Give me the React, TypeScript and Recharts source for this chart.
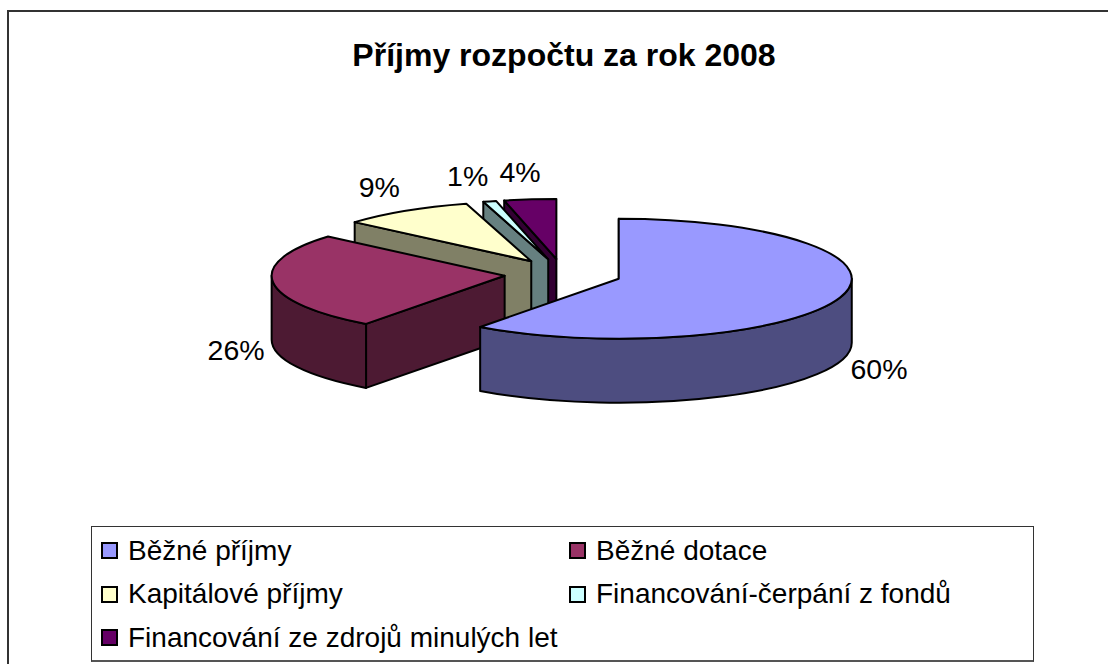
import { PieChart, Pie, Legend } from "recharts";

const NAMES = [
  "Běžné příjmy",
  "Běžné dotace",
  "Kapitálové příjmy",
  "Financování-čerpání z fondů",
  "Financování ze zdrojů minulých let",
];
const VALUES = [60.2, 26.2, 9.2, 0.9, 3.6];
const COLORS = ["#9999FF", "#993366", "#FFFFCC", "#CCFFFF", "#660066"];
const WALLS = ["#4D4D80", "#4D1A33", "#808066", "#668080", "#330033"];
const TITLE = "Příjmy rozpočtu za rok 2008";

// back slices first, so the nearer ones paint over them
const rows = NAMES.map((name, i) => ({
  name,
  value: VALUES[i],
  fill: COLORS[i],
  wall: WALLS[i],
})).reverse();

const FONT = "'Liberation Sans', Arial, sans-serif";
const SQUASH = 60 / 233;
const DEPTH = 64;
const EXPLODE = 0.252;
const RAD = Math.PI / 180;

function arc(cx: number, cy: number, r: number, a: number) {
  return { x: cx + r * Math.cos(a * RAD), y: cy - r * SQUASH * Math.sin(a * RAD) };
}

function arcPath(cx: number, cy: number, r: number, from: number, to: number) {
  // from -> to runs counterclockwise on screen in chart degrees
  const sweep = to > from ? 0 : 1;
  const big = Math.abs(to - from) > 180 ? 1 : 0;
  const end = arc(cx, cy, r, to);
  return `A ${r} ${r * SQUASH} 0 ${big} ${sweep} ${end.x} ${end.y}`;
}

function Slice3D(props: any) {
  const { cx, cy, outerRadius: r, startAngle, endAngle, midAngle, fill, wall } = props;
  const ox = cx + r * EXPLODE * Math.cos(midAngle * RAD);
  const oy = cy - r * SQUASH * EXPLODE * Math.sin(midAngle * RAD);
  const a0 = Math.min(startAngle, endAngle);
  const a1 = Math.max(startAngle, endAngle);
  const p0 = arc(ox, oy, r, a0);
  const line = { stroke: "#000", strokeWidth: 2, strokeLinejoin: "round" as const };

  const walls: React.ReactElement[] = [];
  // straight cut faces that look toward the viewer
  [a0, a1].forEach((a) => {
    const norm = ((a === a0 ? a - 90 : a + 90) % 360 + 360) % 360;
    if (norm > 180 && norm < 360) {
      const p = arc(ox, oy, r, a);
      walls.push(
        <path
          key={`cut-${a}`}
          d={`M ${ox} ${oy} L ${p.x} ${p.y} L ${p.x} ${p.y + DEPTH} L ${ox} ${oy + DEPTH} Z`}
          fill={wall}
          {...line}
        />
      );
    }
  });
  // rim, only the part on the front half of the ellipse
  const rimFrom = Math.max(a0, 180);
  const rimTo = Math.min(a1, 360);
  if (rimTo > rimFrom) {
    const s = arc(ox, oy, r, rimFrom);
    const e = arc(ox, oy, r, rimTo);
    walls.push(
      <path
        key="rim"
        d={`M ${s.x} ${s.y} ${arcPath(ox, oy, r, rimFrom, rimTo)} L ${e.x} ${e.y + DEPTH} ${arcPath(ox, oy + DEPTH, r, rimTo, rimFrom)} Z`}
        fill={wall}
        {...line}
      />
    );
  }
  return (
    <g>
      {walls}
      <path
        d={`M ${ox} ${oy} L ${p0.x} ${p0.y} ${arcPath(ox, oy, r, a0, a1)} Z`}
        fill={fill}
        {...line}
      />
    </g>
  );
}

// label centres relative to the slice's rim point
const LABEL_NUDGE: Record<string, [number, number]> = {
  "Běžné příjmy": [39, 71],
  "Běžné dotace": [-37, 68],
  "Kapitálové příjmy": [-26, -24],
  "Financování-čerpání z fondů": [-22, -25],
  "Financování ze zdrojů minulých let": [-10, -27],
};

function SliceLabel(props: any) {
  const { cx, cy, outerRadius: r, midAngle, percent, name } = props;
  const ox = cx + r * EXPLODE * Math.cos(midAngle * RAD);
  const oy = cy - r * SQUASH * EXPLODE * Math.sin(midAngle * RAD);
  const p = arc(ox, oy, r, midAngle);
  const [dx, dy] = LABEL_NUDGE[name];
  return (
    <text
      x={p.x + dx}
      y={p.y + dy}
      textAnchor="middle"
      dominantBaseline="central"
      fontFamily={FONT}
      fontSize={28.5}
      fill="#000"
    >
      {Math.round(percent * 100)}%
    </text>
  );
}

function LegendBox({ payload }: any) {
  const byName = new Map((payload ?? []).map((it: any) => [it.value, it]));
  const items = NAMES.map((n) => byName.get(n) as any).filter(Boolean);
  return (
    <div
      style={{
        boxSizing: "border-box",
        width: 943,
        height: 136,
        border: "1px solid #333",
        borderBottom: "2px solid #555",
        background: "#fff",
        display: "grid",
        gridTemplateColumns: "468px 1fr",
        gridAutoRows: "43.5px",
        paddingTop: 2,
        paddingLeft: 9,
        fontFamily: FONT,
        fontSize: 28,
        color: "#000",
      }}
    >
      {items.map((it: any) => (
        <div key={it.value} style={{ display: "flex", alignItems: "center" }}>
          <span
            style={{
              boxSizing: "border-box",
              width: 17,
              height: 17,
              border: "2px solid #000",
              background: it.color,
              marginRight: 10,
              flex: "none",
            }}
          />
          <span style={{ whiteSpace: "nowrap" }}>{it.value}</span>
        </div>
      ))}
    </div>
  );
}

export default function App() {
  return (
    <div style={{ position: "absolute", left: 0, top: 0, width: 1108, height: 664, background: "#fff", overflow: "hidden" }}>
      <div
        style={{
          position: "absolute",
          left: 7,
          top: 10,
          width: 1300,
          height: 800,
          borderLeft: "2px solid #333",
          borderTop: "2px solid #333",
        }}
      />
      <div
        style={{
          position: "absolute",
          left: 0,
          width: 1128,
          top: 39,
          textAlign: "center",
          fontFamily: FONT,
          fontWeight: "bold",
          fontSize: 32,
          lineHeight: "32px",
          color: "#000",
        }}
      >
        {TITLE}
      </div>
      <div style={{ position: "absolute", left: 0, top: 0 }}>
        <PieChart width={1108} height={664} margin={{ top: 0, right: 0, bottom: 0, left: 0 }}>
          <Pie
            data={rows}
            dataKey="value"
            nameKey="name"
            cx={563}
            cy={274}
            innerRadius={0}
            outerRadius={233}
            startAngle={90}
            endAngle={450}
            stroke="#000"
            labelLine={false}
            label={SliceLabel}
            shape={Slice3D}
            isAnimationActive={false}
          />
          <Legend
            content={LegendBox}
            layout="vertical"
            wrapperStyle={{ position: "absolute", left: 91, top: 526, width: 943, height: 136 }}
          />
        </PieChart>
      </div>
    </div>
  );
}
